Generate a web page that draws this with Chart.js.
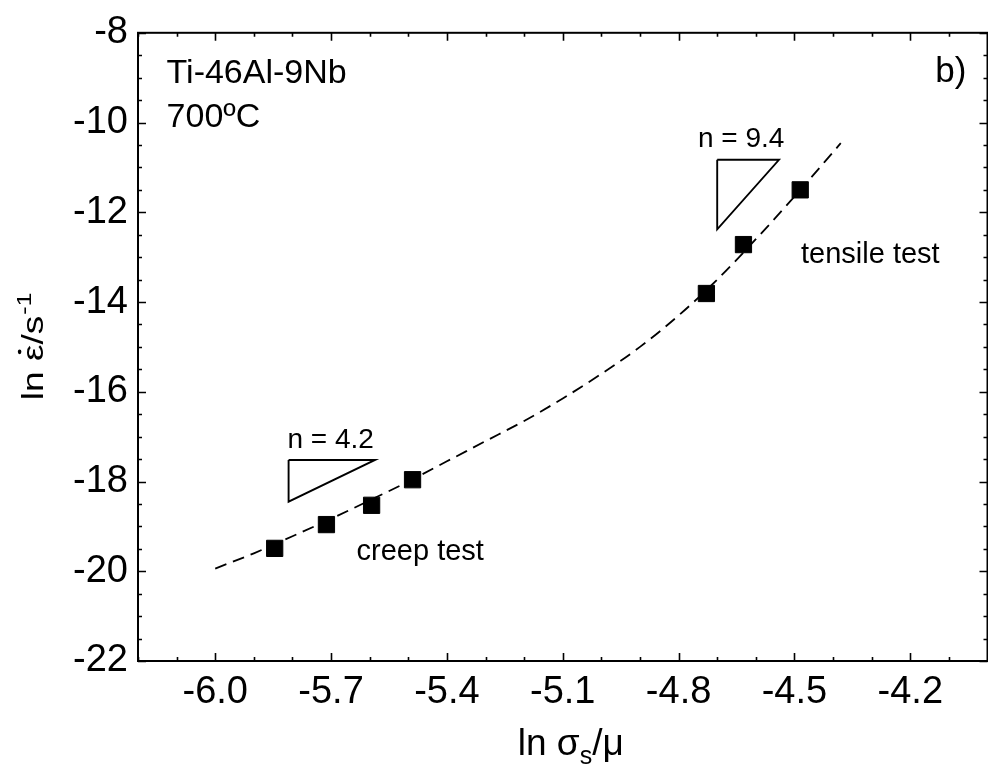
<!DOCTYPE html>
<html>
<head>
<meta charset="utf-8">
<script src="https://cdn.jsdelivr.net/npm/chart.js@4.4.1/dist/chart.umd.min.js"></script>
<style>
  html, body { margin: 0; padding: 0; background: #fff; overflow: hidden; width: 988px; height: 769px; }
  canvas { display: block; }
</style>
</head>
<body>
<canvas id="c" width="1000" height="769"></canvas>
<script>
// ---- data ----
const creepX = [-5.846, -5.712, -5.595, -5.489];
const creepY = [-19.49, -18.96, -18.53, -17.96];
const tensileX = [-4.728, -4.632, -4.485];
const tensileY = [-13.81, -12.72, -11.50];
const fitX = [-6.0, -5.9, -5.8, -5.7, -5.6, -5.5, -5.4, -5.3, -5.2, -5.1, -5.0, -4.9, -4.8, -4.7, -4.6, -4.5, -4.4, -4.38];
const fitY = [-19.94, -19.60, -19.22, -18.83, -18.42, -18.00, -17.55, -17.10, -16.65, -16.15, -15.60, -15.00, -14.30, -13.50, -12.60, -11.65, -10.66, -10.46];
const tri94X = [-4.70, -4.54, -4.70, -4.70];
const tri94Y = [-10.83, -10.83, -12.38, -10.83];
const tri42X = [-5.81, -5.586, -5.81, -5.81];
const tri42Y = [-17.52, -17.52, -18.45, -17.52];
const xMajorTicks = [-6.0, -5.7, -5.4, -5.1, -4.8, -4.5, -4.2];
const xMinorTicks = [-6.2, -6.1, -5.9, -5.8, -5.6, -5.5, -5.3, -5.2, -5.0, -4.9, -4.7, -4.6, -4.4, -4.3, -4.1];
const yMajorTicks = [-8, -10, -12, -14, -16, -18, -20, -22];
const yMinorTicks = [-8.5, -9, -9.5, -10.5, -11, -11.5, -12.5, -13, -13.5, -14.5, -15, -15.5, -16.5, -17, -17.5, -18.5, -19, -19.5, -20.5, -21, -21.5];
const xTitle = ['ln σ', 's', '/μ'];
const yTitle = ['ln ε', '/s', '-1'];
const notes = [
  { text: 'Ti-46Al-9Nb', x: -6.126, y: -9.125, size: 34, align: 'left' },
  { text: '700ºC', x: -6.126, y: -10.11, size: 34, align: 'left' },
  { text: 'b)', x: -4.135, y: -9.10, size: 35, align: 'left' },
  { text: 'n = 9.4', x: -4.638, y: -10.55, size: 28, align: 'center' },
  { text: 'n = 4.2', x: -5.701, y: -17.26, size: 28, align: 'center' },
  { text: 'tensile test', x: -4.483, y: -13.14, size: 29, align: 'left' },
  { text: 'creep test', x: -5.634, y: -19.74, size: 29, align: 'left' }
];

const FONT = "'Liberation Sans', Arial, Helvetica, sans-serif";
const toPts = (xs, ys) => xs.map((x, i) => ({ x: x, y: ys[i] }));

const framePlugin = {
  id: 'frame',
  beforeDatasetsDraw(chart) {
    const ctx = chart.ctx, a = chart.chartArea;
    const xs = chart.scales.x, ys = chart.scales.y;
    ctx.save();
    ctx.strokeStyle = '#000';
    ctx.lineWidth = 2;
    ctx.strokeRect(a.left, a.top, a.right - a.left, a.bottom - a.top);
    ctx.lineWidth = 1.6;
    const tickX = (v, len) => {
      const p = Math.round(xs.getPixelForValue(v)) + 0.5;
      ctx.beginPath();
      ctx.moveTo(p, a.bottom); ctx.lineTo(p, a.bottom - len);
      ctx.moveTo(p, a.top); ctx.lineTo(p, a.top + len);
      ctx.stroke();
    };
    const tickY = (v, len) => {
      const p = Math.round(ys.getPixelForValue(v)) + 0.5;
      ctx.beginPath();
      ctx.moveTo(a.left, p); ctx.lineTo(a.left + len, p);
      ctx.moveTo(a.right, p); ctx.lineTo(a.right - len, p);
      ctx.stroke();
    };
    xMajorTicks.forEach(v => tickX(v, 8));
    xMinorTicks.forEach(v => tickX(v, 4));
    yMajorTicks.forEach(v => tickY(v, 8));
    yMinorTicks.forEach(v => tickY(v, 4));
    ctx.restore();
  },
  afterDraw(chart) {
    const ctx = chart.ctx, a = chart.chartArea;
    const xs = chart.scales.x, ys = chart.scales.y;
    ctx.save();
    ctx.fillStyle = '#000';
    ctx.textBaseline = 'alphabetic';
    notes.forEach(n => {
      ctx.font = n.size + 'px ' + FONT;
      ctx.textAlign = n.align;
      ctx.fillText(n.text, xs.getPixelForValue(n.x), ys.getPixelForValue(n.y));
    });
    // x title: ln σ_s/μ
    ctx.textAlign = 'left';
    const big = '37px ' + FONT, small = '25px ' + FONT;
    ctx.font = big; const w1 = ctx.measureText(xTitle[0]).width;
    ctx.font = small; const w2 = ctx.measureText(xTitle[1]).width;
    ctx.font = big; const w3 = ctx.measureText(xTitle[2]).width;
    let x0 = (a.left + a.right) / 2 - (w1 + w2 + w3) / 2 + 8;
    const by = 755;
    ctx.font = big; ctx.fillText(xTitle[0], x0, by);
    ctx.font = small; ctx.fillText(xTitle[1], x0 + w1, by + 9);
    ctx.font = big; ctx.fillText(xTitle[2], x0 + w1 + w2, by);
    // y title: ln ε̇/s^-1 (rotated)
    ctx.save();
    ctx.translate(43, (a.top + a.bottom) / 2);
    ctx.rotate(-Math.PI / 2);
    ctx.scale(1, 0.78);
    ctx.font = big; const v1 = ctx.measureText(yTitle[0]).width;
    const v2 = ctx.measureText(yTitle[1]).width;
    ctx.font = small; const v3 = ctx.measureText(yTitle[2]).width;
    let s0 = -(v1 + v2 + v3) / 2;
    ctx.font = big;
    ctx.fillText(yTitle[0], s0, 0);
    const epsW = ctx.measureText('ε').width;
    ctx.beginPath();
    ctx.arc(s0 + v1 - epsW / 2 + 1, -30, 2.3, 0, Math.PI * 2);
    ctx.fill();
    ctx.fillText(yTitle[1], s0 + v1, 0);
    ctx.font = small;
    ctx.fillText(yTitle[2], s0 + v1 + v2 + 1, -15);
    ctx.restore();
    ctx.restore();
  }
};

new Chart(document.getElementById('c'), {
  type: 'scatter',
  data: {
    datasets: [
      { data: toPts(fitX, fitY), showLine: true, borderColor: '#000', borderWidth: 1.8,
        borderDash: [12, 7], pointRadius: 0, cubicInterpolationMode: 'monotone', fill: false },
      { data: toPts(creepX, creepY), pointStyle: 'rect', pointRadius: 11.5,
        backgroundColor: '#000', borderColor: '#000', borderWidth: 1 },
      { data: toPts(tensileX, tensileY), pointStyle: 'rect', pointRadius: 11.5,
        backgroundColor: '#000', borderColor: '#000', borderWidth: 1 },
      { data: toPts(tri94X, tri94Y), showLine: true, borderColor: '#000', borderWidth: 1.9,
        pointRadius: 0, tension: 0, fill: false },
      { data: toPts(tri42X, tri42Y), showLine: true, borderColor: '#000', borderWidth: 1.9,
        pointRadius: 0, tension: 0, fill: false }
    ]
  },
  options: {
    responsive: false,
    devicePixelRatio: 1,
    animation: false,
    layout: { padding: { top: 23, right: 7, left: 0, bottom: 0 } },
    plugins: { legend: { display: false }, tooltip: { enabled: false } },
    scales: {
      x: {
        type: 'linear', min: -6.2, max: -4.0,
        grid: { display: false, drawTicks: false },
        border: { display: false },
        afterBuildTicks: s => { s.ticks = xMajorTicks.map(v => ({ value: v })); },
        afterFit: s => { s.height = 108; },
        ticks: { color: '#000', font: { family: FONT, size: 38 }, padding: 9,
                 maxRotation: 0, autoSkip: false, callback: v => v.toFixed(1) }
      },
      y: {
        type: 'linear', min: -22, max: -8,
        grid: { display: false, drawTicks: false },
        border: { display: false },
        afterBuildTicks: s => { s.ticks = yMajorTicks.map(v => ({ value: v })); },
        afterFit: s => { s.width = 138; },
        ticks: { color: '#000', font: { family: FONT, size: 38 }, padding: 10,
                 autoSkip: false, callback: v => v.toFixed(0) }
      }
    }
  },
  plugins: [framePlugin]
});
</script>
</body>
</html>
